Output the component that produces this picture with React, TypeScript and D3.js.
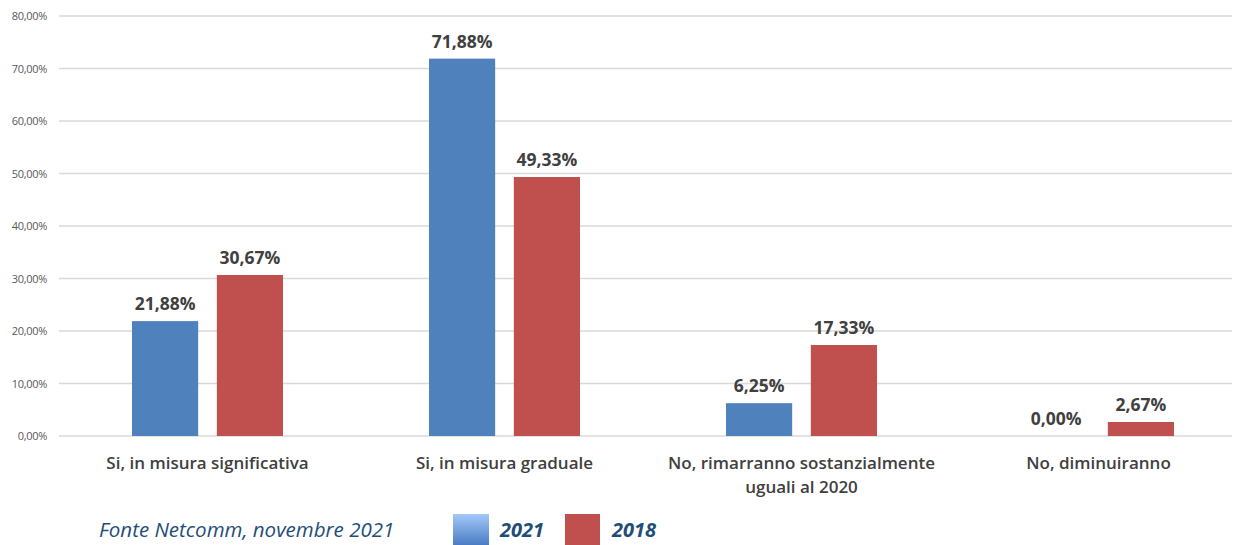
import React from "react";
import * as d3 from "d3";

const categories = [
  ["Si, in misura significativa"],
  ["Si, in misura graduale"],
  ["No, rimarranno sostanzialmente", "uguali al 2020"],
  ["No, diminuiranno"],
];
const series = ["2021", "2018"];
const values2021 = [21.88, 71.88, 6.25, 0.0];
const values2018 = [30.67, 49.33, 17.33, 2.67];
const yTicks = [0, 10, 20, 30, 40, 50, 60, 70, 80];
const colors = ["#4F81BD", "#C0504D"];

const fmt = (v: number) => v.toFixed(2).replace(".", ",") + "%";

export default function App() {
  const W = 1235, H = 545;
  const x0 = d3.scaleBand<number>().domain(d3.range(categories.length)).range([59, 1247]).paddingInner(0).paddingOuter(0);
  const x1 = d3.scaleBand<string>().domain(series).range([73, 297 - 73]).paddingInner(0.22);
  const y = d3.scaleLinear().domain([0, 80]).range([436, 16]);
  const font = "'Open Sans', sans-serif";
  const data = [values2021, values2018];
  return (
    <svg width={W} height={H} style={{ position: "absolute", left: 0, top: 0 }} fontFamily={font}>
      <defs>
        <linearGradient id="lg" x1="0" y1="0" x2="0" y2="1">
          <stop offset="0" stopColor="#A3C8F8" />
          <stop offset="1" stopColor="#4A7DC4" />
        </linearGradient>
      </defs>
      {yTicks.map((t) => (
        <g key={t}>
          <line x1={59} x2={1232} y1={y(t)} y2={y(t)} stroke="#D9D9D9" strokeWidth={1.3} />
          <text x={47} y={y(t) + 4} textAnchor="end" fontSize={11} fill="#595959" letterSpacing={-0.3}>{fmt(t)}</text>
        </g>
      ))}
      {categories.map((c, i) => (
        <g key={i}>
          {series.map((s, k) => {
            const v = data[k][i];
            const bx = x0(i)! + x1(s)!;
            return (
              <g key={s}>
                {v > 0 && (
                  <rect x={bx} y={y(v)} width={x1.bandwidth()} height={y(0) - y(v)} fill={colors[k]} />
                )}
                <text x={bx + x1.bandwidth() / 2} y={y(v) - 11} textAnchor="middle" fontSize={17.5} fontWeight="bold" fill="#404040">{fmt(v)}</text>
              </g>
            );
          })}
          {c.map((line, j) => (
            <text key={j} x={x0(i)! + x0.bandwidth() / 2} y={469 + j * 24} textAnchor="middle" fontSize={17} fontWeight={600} fill="#404040">{line}</text>
          ))}
        </g>
      ))}
      <text x={99} y={537} fontSize={20.5} fontStyle="italic" fill="#1F4E79">Fonte Netcomm, novembre 2021</text>
      <rect x={453} y={514} width={36} height={31} fill="url(#lg)" />
      <text x={500} y={537} fontSize={20} fontStyle="italic" fontWeight="bold" fill="#1F4E79">2021</text>
      <rect x={565} y={514} width={35} height={31} fill={colors[1]} />
      <text x={612} y={537} fontSize={20} fontStyle="italic" fontWeight="bold" fill="#1F4E79">2018</text>
    </svg>
  );
}
